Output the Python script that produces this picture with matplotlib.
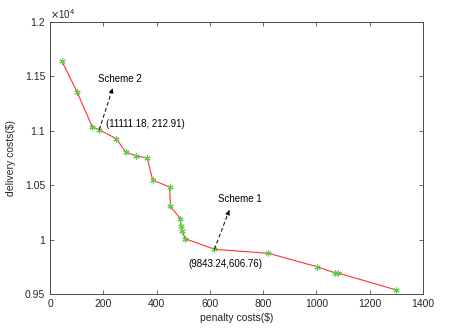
import matplotlib
matplotlib.use("Agg")
import matplotlib.pyplot as plt
import numpy as np

penalty = [45, 102, 159, 185, 249, 284, 322, 365, 385, 449, 452, 489, 492, 495, 508, 617, 820, 1002, 1071, 1082, 1299]
delivery = [11639, 11354, 11035, 11010, 10927, 10805, 10771, 10750, 10548, 10483, 10306, 10192, 10122, 10082, 10008, 9911, 9874, 9751, 9693, 9693, 9537]

x_ticks = [0, 200, 400, 600, 800, 1000, 1200, 1400]
y_ticks = [0.95, 1.0, 1.05, 1.1, 1.15, 1.2]
y_tick_labels = ["0.95", "1", "1.05", "1.1", "1.15", "1.2"]

scheme2_pt = (185, 11010)
scheme2_tip = (235, 11390)
scheme1_pt = (617, 9911)
scheme1_tip = (673, 10270)

plt.rcParams['font.family'] = ['Liberation Sans', 'DejaVu Sans']
gray = "#4d4d4d"
txt = "#262626"
fig = plt.figure(figsize=(4.57, 3.33), dpi=100)
ax = fig.add_axes([50/457, 1-294/333, 373/457, 272/333])

ax.plot(penalty, delivery, color="#ff3333", lw=0.8, zorder=2)
ax.plot(penalty, delivery, ls="none", marker=(6, 2, 0), ms=4.5, color="#5ccc4a",
        markeredgewidth=0.8, zorder=3)

ax.set_xlim(0, 1400)
ax.set_ylim(9500, 12000)
ax.set_xticks(x_ticks)
ax.set_yticks([v*1e4 for v in y_ticks])
ax.set_yticklabels(y_tick_labels)
ax.tick_params(direction="in", length=3, width=0.6, colors=gray, labelsize=7.5,
               top=True, right=True, labelcolor=txt)
for s in ax.spines.values():
    s.set_color(gray)
    s.set_linewidth(0.7)

ax.set_xlabel("penalty costs($)", fontsize=7.5, color=txt, labelpad=3)
ax.set_ylabel("delivery costs($)", fontsize=7.5, color=txt, labelpad=6)
ax.text(0.0, 1.005, r"$\times$10$^4$", transform=ax.transAxes, fontsize=7,
        color=txt, ha="left", va="bottom")

def dashed_arrow(p0, p1):
    ax.plot([p0[0], p1[0]], [p0[1], p1[1]], ls=(0, (4, 2.5)), color="black", lw=0.7, zorder=4)
    d = (p1[0]-p0[0], p1[1]-p0[1])
    back = (p1[0]-0.2*d[0], p1[1]-0.2*d[1])
    ax.annotate("", xy=p1, xytext=back,
                arrowprops=dict(arrowstyle="-|>", color="black", lw=0.0,
                                mutation_scale=9, shrinkA=0, shrinkB=0))

# Scheme 2
dashed_arrow(scheme2_pt, scheme2_tip)
ax.text(182, 11480, "Scheme 2", fontsize=7, color="black", ha="left", va="center")
ax.text(210, 11065, "(11111.18, 212.91)", fontsize=7, color="black", ha="left", va="center")

# Scheme 1
dashed_arrow(scheme1_pt, scheme1_tip)
ax.text(630, 10370, "Scheme 1", fontsize=7, color="black", ha="left", va="center")
ax.text(518, 9775, "(9843.24,606.76)", fontsize=7, color="black", ha="left", va="center")

fig.savefig("out.png", dpi=100)
